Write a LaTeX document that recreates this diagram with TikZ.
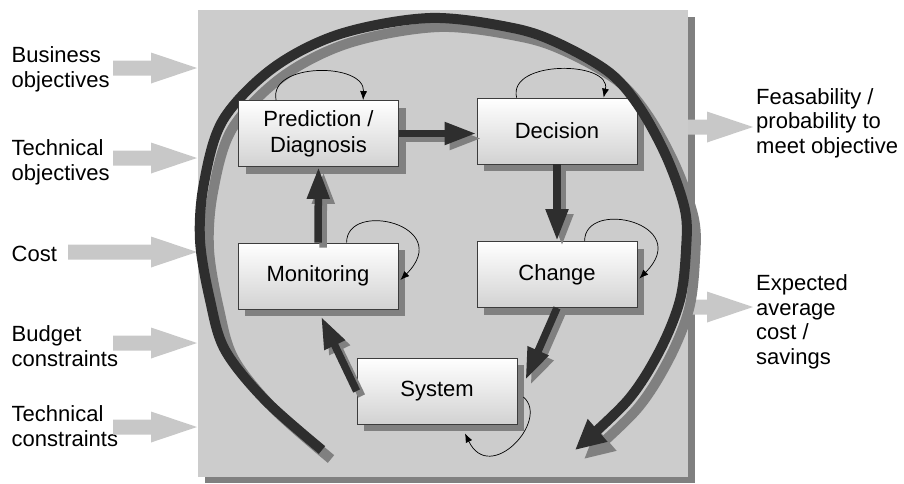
\documentclass[tikz,border=0pt]{standalone}
\usepackage{fontspec}
\setmainfont{Liberation Sans}
\usetikzlibrary{arrows.meta,shadows,calc}
\definecolor{bgpanel}{HTML}{CCCCCC}
\definecolor{shd}{HTML}{808080}
\definecolor{darkarr}{HTML}{2E2E2E}
\definecolor{inarr}{HTML}{C8C8C8}
\definecolor{boxbot}{HTML}{D2D2D2}
\definecolor{boxline}{HTML}{3C3C3C}
\newcommand{\inarrow}[3]{%
  \fill[inarr] (#1,#3-7.5) -- (#2-46,#3-7.5) -- (#2-46,#3-15.5) -- (#2,#3) -- (#2-46,#3+15.5) -- (#2-46,#3+7.5) -- (#1,#3+7.5) -- cycle;}
\begin{document}
\begin{tikzpicture}[x=1pt,y=-1pt,
  box/.style={draw=boxline, line width=0.8pt, top color=white, bottom color=boxbot,
    minimum width=160pt, minimum height=66pt, inner sep=0pt, align=center,
    font=\fontsize{22}{26}\selectfont,
    drop shadow={shadow xshift=7pt,shadow yshift=-7pt,opacity=1,fill=shd}},
  lab/.style={font=\fontsize{22}{24.5}\selectfont, align=left, inner sep=0pt},
  conn/.style={draw=darkarr, line width=7.5pt, -{Triangle[width=21pt,length=32pt]}},
  connshd/.style={conn, draw=shd, transform canvas={xshift=5pt,yshift=-5pt}},
  bigarc/.style={draw=darkarr, line width=10pt, -{Triangle[width=28pt,length=30pt]}},
  loopar/.style={draw=black, line width=0.7pt, -{Latex[length=9pt,width=7pt]}}]
\useasboundingbox (0,0) rectangle (904,483);
% panel
\fill[shd] (205,17) rectangle (695,483);
\fill[bgpanel] (198,10) rectangle (688,477);
% labels (anchor = baseline of last line)
\node[lab, anchor=base west] (bo) at (11.5,87) {Business\\objectives};
\node[lab, anchor=base west] (to) at (11.5,180) {Technical\\objectives};
\node[lab, anchor=base west] (co) at (11.5,261) {Cost};
\node[lab, anchor=base west] (bc) at (11.5,366) {Budget\\constraints};
\node[lab, anchor=base west] (tc) at (11.5,446) {Technical\\constraints};
\node[lab, anchor=base west] (fe) at (756,153) {Feasability /\\probability to\\meet objective};
\node[lab, anchor=base west] (ex) at (756,364) {Expected\\average\\cost /\\savings};
% input / output block arrows
\inarrow{113}{197}{68}
\inarrow{113}{197}{158}
\inarrow{68}{197}{252}
\inarrow{113}{197}{343}
\inarrow{113}{197}{427}
\inarrow{688}{753}{127}
\inarrow{688}{753}{307}
% boxes (except prediction)
\node[box] (dec) at (557,131) {Decision};
\node[box] (mon) at (318,276) {Monitoring};
\node[box] (chg) at (557,274.5) {Change};
\node[box] (sys) at (437,391) {System};
% big cycle arrow
\draw[bigarc, draw=shd, transform canvas={xshift=9pt,yshift=-9pt}] plot[smooth,tension=0.55] coordinates {(322,450) (265,400) (225,350) (210,300) (200,240) (204,183) (223,120) (273,68) (340,34) (430,18) (513,28) (560,44) (610,73) (640,108) (667,158) (685,210) (686,250) (680,300) (660,350) (628,400) (575,450)};
\draw[bigarc] plot[smooth,tension=0.55] coordinates {(322,450) (265,400) (225,350) (210,300) (200,240) (204,183) (223,120) (273,68) (340,34) (430,18) (513,28) (560,44) (610,73) (640,108) (667,158) (685,210) (686,250) (680,300) (660,350) (628,400) (575,450)};
\node[box] (pred) at (318.5,133.5) {Prediction /\\Diagnosis};
% connectors
\coordinate (decin) at (pred.east -| dec.west);
\coordinate (sysin) at ($(sys.east)+(8,-11)$);
\coordinate (monin) at ($(mon.south)+(3,7)$);
\draw[connshd] (pred.east) -- (decin);
\draw[connshd] (dec.south) -- (chg.north);
\draw[connshd] (mon.north) -- (pred.south);
\draw[connshd] (chg.south) -- (sysin);
\draw[connshd] (sys.west) -- (monin);
\draw[conn] (pred.east) -- (decin);
\draw[conn] (dec.south) -- (chg.north);
\draw[conn] (mon.north) -- (pred.south);
\draw[conn] (chg.south) -- (sysin);
\draw[conn] (sys.west) -- (monin);
% self loops
\draw[loopar] ($(pred.north west)+(38,0)$) .. controls +(-8,-38) and +(2,-38) .. ($(pred.north west)+(125,0)$);
\draw[loopar] ($(dec.north west)+(40,0)$) .. controls +(-9,-38) and +(8,-37) .. ($(dec.north west)+(127,0)$);
\draw[loopar] ($(mon.north west)+(109,0)$) .. controls +(0,-43) and +(55,-55) .. ($(mon.east)+(2,4)$);
\draw[loopar] ($(chg.north west)+(108,0)$) .. controls +(0,-43) and +(55,-55) .. ($(chg.east)+(2,4)$);
\draw[loopar] ($(sys.east)+(6,6)$) .. controls +(27,23) and +(25,52) .. ($(sys.south)+(28,9)$);
\end{tikzpicture}
\end{document}
